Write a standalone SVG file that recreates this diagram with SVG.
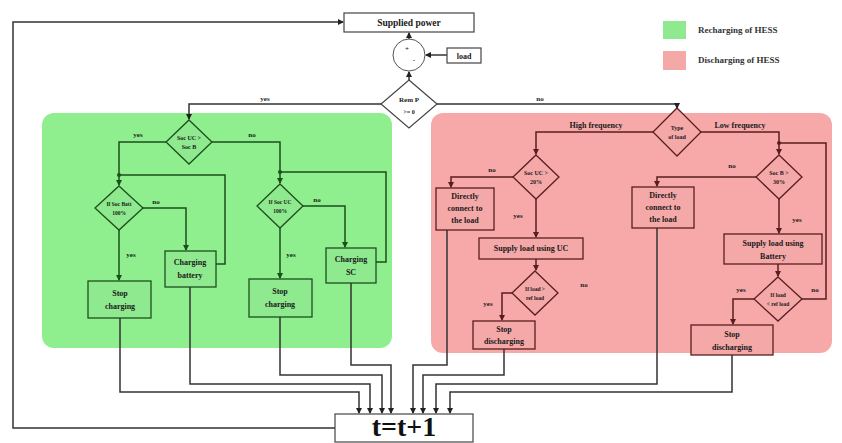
<svg xmlns="http://www.w3.org/2000/svg" width="842" height="443" viewBox="0 0 842 443">
<defs>
<marker id="ak" markerWidth="6" markerHeight="6" refX="5" refY="3" orient="auto" markerUnits="userSpaceOnUse"><path d="M0,0 L6,3 L0,6 z" fill="#222"/></marker>
<marker id="ag" markerWidth="6" markerHeight="6" refX="5" refY="3" orient="auto" markerUnits="userSpaceOnUse"><path d="M0,0 L6,3 L0,6 z" fill="#1d4f1d"/></marker>
<marker id="ar" markerWidth="6" markerHeight="6" refX="5" refY="3" orient="auto" markerUnits="userSpaceOnUse"><path d="M0,0 L6,3 L0,6 z" fill="#5a1e1e"/></marker>
</defs>
<style>
text{font-family:"Liberation Serif","Times New Roman",serif;font-weight:bold;text-anchor:middle;}
.k{fill:none;stroke:#333;stroke-width:1.5;}
.g{fill:none;stroke:#1d4f1d;stroke-width:1.5;}
.r{fill:none;stroke:#5a1e1e;stroke-width:1.5;}
.bk{fill:#fff;stroke:#444;stroke-width:1.2;}
.bg{fill:#8fe98f;stroke:#1d4f1d;stroke-width:1.3;}
.br{fill:#f5a8a8;stroke:#5a1e1e;stroke-width:1.3;}
.t7{font-size:7px;fill:#1a1a1a;}
.t8{font-size:8px;fill:#1a1a1a;}
.t9{font-size:9.5px;fill:#1a1a1a;}
.lg{font-size:9px;fill:#333;text-anchor:start;}
.ka{marker-end:url(#ak);}
.ga{marker-end:url(#ag);}
.ra{marker-end:url(#ar);}
</style>
<rect id="green-region" x="42" y="113" width="350" height="235" rx="12" fill="#8fef8f"/>
<rect id="pink-region" x="431" y="113" width="401" height="240" rx="12" fill="#f7a9a9"/>
<g id="legend">
<rect x="663" y="21" width="23" height="18" fill="#8fe98f"/>
<text class="lg" x="698" y="33">Recharging of HESS</text>
<rect x="663" y="51" width="23" height="19" fill="#f5a8a8"/>
<text class="lg" x="698" y="63">Discharging of HESS</text>
</g>
<g id="connectors">
<path class="k ka" d="M409,80 V72"/>
<path class="k ka" d="M409,39 V33"/>
<path class="k ka" d="M447,55 H426"/>
<path class="k ka" d="M335,428 H13 V22 H343"/>
<path class="k ka" d="M381,104 H189 V119"/>
<path class="k ka" d="M437,104 H677 V108"/>
<path class="g ga" d="M166,142 H119 V185"/>
<path class="g" d="M216,264 H225 V175 H119"/>
<path class="g ga" d="M143,208 H186 V250"/>
<path class="g ga" d="M119,230 V280"/>
<path class="g ga" d="M212,142 H280 V183"/>
<path class="g" d="M376,262 H386 V172 H280"/>
<path class="g ga" d="M303,206 H345 V247"/>
<path class="g ga" d="M280,228 V278"/>
<circle cx="119" cy="175" r="2" fill="#1d4f1d"/>
<circle cx="280" cy="172" r="2" fill="#1d4f1d"/>
<path class="k ka" d="M120,318 V392 H359 V413"/>
<path class="k ka" d="M190,287 V384 H370 V413"/>
<path class="k ka" d="M280,317 V375 H382 V413"/>
<path class="k ka" d="M351,283 V365 H391 V413"/>
<path class="k ka" d="M447,230 V365 H413 V413"/>
<path class="k ka" d="M504,349 V375 H423 V413"/>
<path class="k ka" d="M657,228 V384 H436 V413"/>
<path class="k ka" d="M732,355 V392 H450 V413"/>
<path class="r ra" d="M653,132 H536 V154"/>
<path class="r ra" d="M701,132 H779 V154"/>
<path class="r" d="M802,299 H826 V143 H779"/>
<circle cx="779" cy="143" r="2" fill="#5a1e1e"/>
<path class="r ra" d="M513,177 H451 V187"/>
<path class="r ra" d="M536,199 V237"/>
<path class="r ra" d="M536,259 V270"/>
<path class="r ra" d="M512,293 H502 V320"/>
<path class="r ra" d="M756,177 H657 V186"/>
<path class="r ra" d="M779,199 V233"/>
<path class="r ra" d="M778,264 V276"/>
<path class="r ra" d="M754,299 H733 V324"/>
</g>
<g id="labels">
<text class="t7" x="265" y="101">yes</text>
<text class="t7" x="540" y="101">no</text>
<text class="t7" x="138" y="137">yes</text>
<text class="t7" x="252" y="137">no</text>
<text class="t7" x="156" y="204">no</text>
<text class="t7" x="131" y="257">yes</text>
<text class="t7" x="317" y="202">no</text>
<text class="t7" x="291" y="257">yes</text>
<text class="t8" x="596" y="128">High frequency</text>
<text class="t8" x="740" y="128">Low frequency</text>
<text class="t7" x="492" y="172">no</text>
<text class="t7" x="518" y="218">yes</text>
<text class="t7" x="488" y="306">yes</text>
<text class="t7" x="584" y="287">no</text>
<text class="t7" x="732" y="168">no</text>
<text class="t7" x="797" y="222">yes</text>
<text class="t7" x="741" y="292">yes</text>
<text class="t7" x="815" y="292">no</text>
</g>
<g id="supplied-power"><rect class="bk" x="344" y="13" width="130" height="19"/><text class="t9" x="409" y="26">Supplied power</text></g>
<g id="sum"><circle cx="409" cy="55" r="16" fill="#fff" stroke="#555" stroke-width="1"/><text class="t7" x="407" y="51">+</text><text class="t7" x="414" y="62">-</text></g>
<g id="load"><rect class="bk" x="447" y="48" width="34" height="15"/><text class="t8" x="464" y="59">load</text></g>
<g id="rem-p"><polygon class="bk" points="409,80 437,104 409,128 381,104" stroke-width="1.5"/><text class="t7" x="409" y="102">Rem P</text><text class="t7" x="409" y="114" style="font-size:6px">&gt;= 0</text></g>
<g id="soc-uc-soc-b"><polygon class="bg" points="189,120 212,142 189,164 166,142"/><text class="t7" x="189" y="140" style="font-size:6px">Soc UC &gt;</text><text class="t7" x="189" y="149" style="font-size:6px">Soc B</text></g>
<g id="if-soc-batt"><polygon class="bg" points="119,186 143,208 119,230 95,208"/><text class="t7" x="119" y="206" style="font-size:5.5px">If Soc Batt</text><text class="t7" x="119" y="215" style="font-size:5.5px">100%</text></g>
<g id="if-soc-uc"><polygon class="bg" points="280,184 303,206 280,228 257,206"/><text class="t7" x="280" y="204" style="font-size:5.5px">If Soc UC</text><text class="t7" x="280" y="213" style="font-size:5.5px">100%</text></g>
<g id="stop-charging-1"><rect class="bg" x="88" y="281" width="63" height="37"/><text class="t8" x="120" y="296">Stop</text><text class="t8" x="120" y="309">charging</text></g>
<g id="charging-battery"><rect class="bg" x="165" y="251" width="51" height="36"/><text class="t8" x="190" y="265">Charging</text><text class="t8" x="190" y="278">battery</text></g>
<g id="stop-charging-2"><rect class="bg" x="249" y="279" width="63" height="38"/><text class="t8" x="280" y="294">Stop</text><text class="t8" x="280" y="307">charging</text></g>
<g id="charging-sc"><rect class="bg" x="326" y="248" width="50" height="35"/><text class="t8" x="351" y="262">Charging</text><text class="t8" x="351" y="275">SC</text></g>
<g id="type-of-load"><polygon class="br" points="677,108 701,132 677,156 653,132"/><text class="t7" x="677" y="130" style="font-size:6px">Type</text><text class="t7" x="677" y="139" style="font-size:6px">of load</text></g>
<g id="soc-uc-20"><polygon class="br" points="536,155 559,177 536,199 513,177"/><text class="t7" x="536" y="175" style="font-size:6px">Soc UC &gt;</text><text class="t7" x="536" y="184" style="font-size:6px">20%</text></g>
<g id="direct-1"><rect class="br" x="436" y="188" width="58" height="42"/><text class="t8" x="465" y="199">Directly</text><text class="t8" x="465" y="211">connect to</text><text class="t8" x="465" y="223">the load</text></g>
<g id="supply-uc"><rect class="br" x="479" y="238" width="104" height="21"/><text class="t8" x="531" y="251">Supply load using UC</text></g>
<g id="if-load-1"><polygon class="br" points="535,271 558,293 535,315 512,293"/><text class="t7" x="535" y="291" style="font-size:5.5px">If load &gt;</text><text class="t7" x="535" y="300" style="font-size:5.5px">ref load</text></g>
<g id="stop-discharging-1"><rect class="br" x="473" y="321" width="62" height="28"/><text class="t8" x="504" y="332">Stop</text><text class="t8" x="504" y="344">discharging</text></g>
<g id="soc-b-30"><polygon class="br" points="779,155 802,177 779,199 756,177"/><text class="t7" x="779" y="175" style="font-size:6px">Soc B &gt;</text><text class="t7" x="779" y="184" style="font-size:6px">30%</text></g>
<g id="direct-2"><rect class="br" x="632" y="187" width="62" height="41"/><text class="t8" x="663" y="198">Directly</text><text class="t8" x="663" y="210">connect to</text><text class="t8" x="663" y="222">the load</text></g>
<g id="supply-battery"><rect class="br" x="724" y="234" width="98" height="30"/><text class="t8" x="773" y="246">Supply load using</text><text class="t8" x="773" y="259">Battery</text></g>
<g id="if-load-2"><polygon class="br" points="778,277 802,299 778,321 754,299"/><text class="t7" x="778" y="297" style="font-size:5.5px">If load</text><text class="t7" x="778" y="306" style="font-size:5.5px">&lt; ref load</text></g>
<g id="stop-discharging-2"><rect class="br" x="691" y="325" width="82" height="30"/><text class="t8" x="732" y="337">Stop</text><text class="t8" x="732" y="350">discharging</text></g>
<g id="t-update"><rect class="bk" x="335" y="414" width="138" height="28" stroke-width="1.5"/><text x="404" y="436" style="font-size:28px" fill="#111">t=t+1</text></g>
</svg>
